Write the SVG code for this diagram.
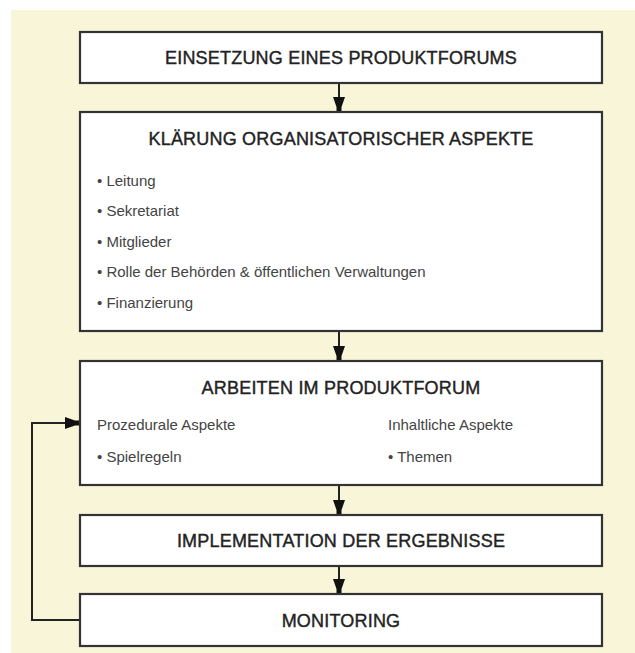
<svg xmlns="http://www.w3.org/2000/svg" width="635" height="653" viewBox="0 0 635 653">
<defs>
<style>
.box{fill:#ffffff;stroke:#333333;stroke-width:2.2}
.title{font-family:"Liberation Sans",Arial,sans-serif;font-size:18px;fill:#222222;stroke:#222222;stroke-width:0.4;text-anchor:middle;letter-spacing:0.2px}
.body{font-family:"Liberation Sans",Arial,sans-serif;font-size:15px;fill:#444444}
.conn{fill:none;stroke:#222222;stroke-width:2}
</style>
<marker id="arr" markerUnits="userSpaceOnUse" markerWidth="16" markerHeight="14" viewBox="0 -7 16 14" refX="15" refY="0" orient="auto">
<path d="M0,-6 L10,-2.5 L15,-2.5 L15,2.5 L10,2.5 L0,6 Z" fill="#111111"/>
</marker>
</defs>
<rect x="11" y="10" width="624" height="643" fill="#F9F5D8"/>
<g id="connectors">
<path class="conn" d="M339,83 V112" marker-end="url(#arr)"/>
<path class="conn" d="M339,331 V361" marker-end="url(#arr)"/>
<path class="conn" d="M339,485 V515" marker-end="url(#arr)"/>
<path class="conn" d="M339,566 V594" marker-end="url(#arr)"/>
<path class="conn" d="M80,620 H32 V423 H80" marker-end="url(#arr)"/>
</g>
<g id="node1">
<rect class="box" x="80" y="32" width="522" height="51"/>
<text class="title" x="341" y="64">EINSETZUNG EINES PRODUKTFORUMS</text>
</g>
<g id="node2">
<rect class="box" x="80" y="112" width="522" height="219"/>
<text class="title" x="341" y="145">KLÄRUNG ORGANISATORISCHER ASPEKTE</text>
<text class="body" x="97" y="186">• Leitung</text>
<text class="body" x="97" y="216">• Sekretariat</text>
<text class="body" x="97" y="247">• Mitglieder</text>
<text class="body" x="97" y="277">• Rolle der Behörden &amp; öffentlichen Verwaltungen</text>
<text class="body" x="97" y="308">• Finanzierung</text>
</g>
<g id="node3">
<rect class="box" x="80" y="361" width="522" height="124"/>
<text class="title" x="341" y="394">ARBEITEN IM PRODUKTFORUM</text>
<text class="body" x="97" y="430">Prozedurale Aspekte</text>
<text class="body" x="97" y="462">• Spielregeln</text>
<text class="body" x="388" y="430">Inhaltliche Aspekte</text>
<text class="body" x="388" y="462">• Themen</text>
</g>
<g id="node4">
<rect class="box" x="80" y="515" width="522" height="51"/>
<text class="title" x="341" y="547">IMPLEMENTATION DER ERGEBNISSE</text>
</g>
<g id="node5">
<rect class="box" x="80" y="594" width="522" height="52"/>
<text class="title" x="341" y="627">MONITORING</text>
</g>
</svg>
